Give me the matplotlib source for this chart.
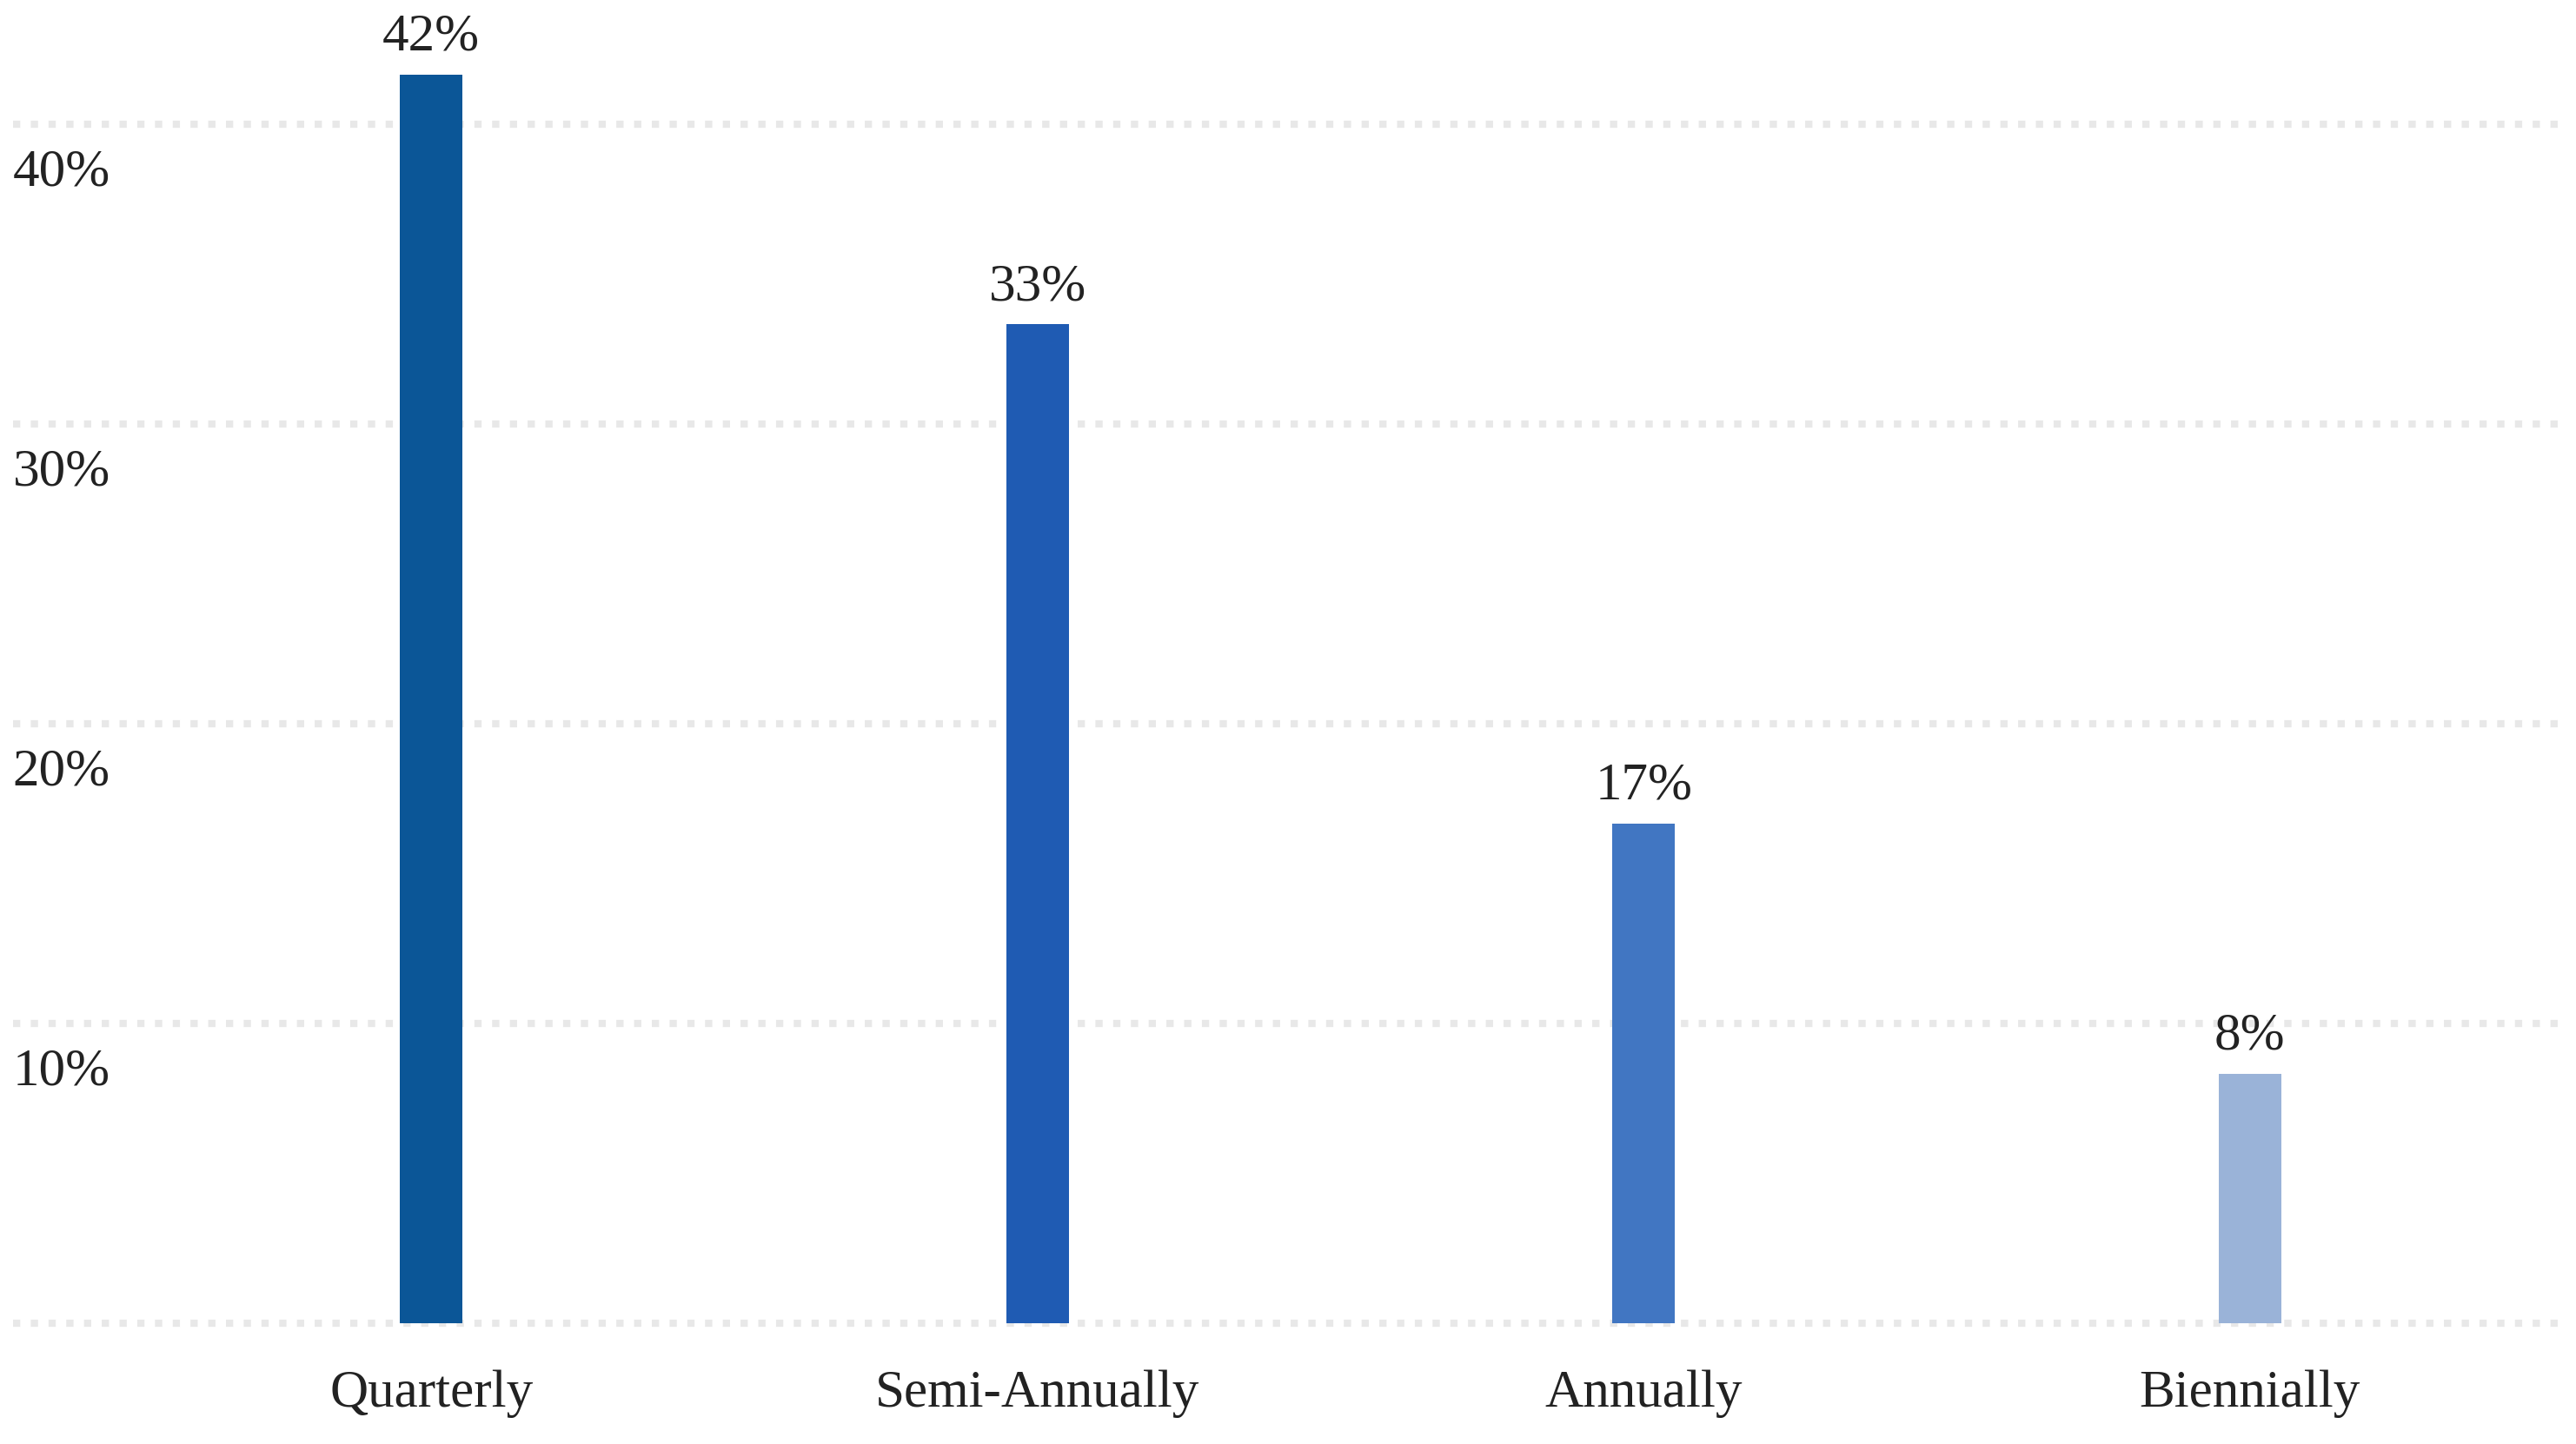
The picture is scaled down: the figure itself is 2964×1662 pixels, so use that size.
import matplotlib
matplotlib.use("Agg")
import matplotlib.pyplot as plt

categories = ["Quarterly", "Semi-Annually", "Annually", "Biennially"]
values = [41.67, 33.33, 16.67, 8.33]
value_labels = ["42%", "33%", "17%", "8%"]
bar_colors = ["#0B5697", "#1F5BB3", "#4176C2", "#9AB3D8"]
y_ticks = [0, 10, 20, 30, 40]
y_tick_labels = ["", "10%", "20%", "30%", "40%"]

W, H, DPI = 2964, 1662, 100
fig = plt.figure(figsize=(W / DPI, H / DPI), dpi=DPI)
ax = fig.add_axes([0.005, 0.0835, 0.992, 0.9165])

font = "Liberation Serif"
txt_color = "#222222"
fs = 44

x = list(range(len(categories)))
ax.bar(x, values, width=0.103, color=bar_colors, zorder=3)

for yv in y_ticks:
    ax.axhline(yv, color="#E8E8E8", linewidth=6, linestyle=(0, (1, 1.45)),
               dash_capstyle="butt", zorder=1, clip_on=False)

for yv, lab in zip(y_ticks, y_tick_labels):
    if lab:
        ax.annotate(lab, xy=(0, yv), xycoords=("axes fraction", "data"),
                    xytext=(0, -40), textcoords="offset points",
                    ha="left", va="center", fontsize=fs, family=font, color=txt_color)

for xi, v, lab in zip(x, values, value_labels):
    ax.annotate(lab, xy=(xi, v), xytext=(0, 11), textcoords="offset points",
                ha="center", va="bottom", fontsize=fs, family=font, color=txt_color)

ax.set_xlim(-0.69, 3.525)
ax.set_ylim(0, 44.15)
ax.set_xticks(x)
ax.set_xticklabels(categories, fontsize=fs, family=font, color=txt_color)
ax.tick_params(axis="x", length=0, pad=38)
ax.set_yticks([])
for s in ax.spines.values():
    s.set_visible(False)

fig.savefig("out.png", dpi=DPI)
